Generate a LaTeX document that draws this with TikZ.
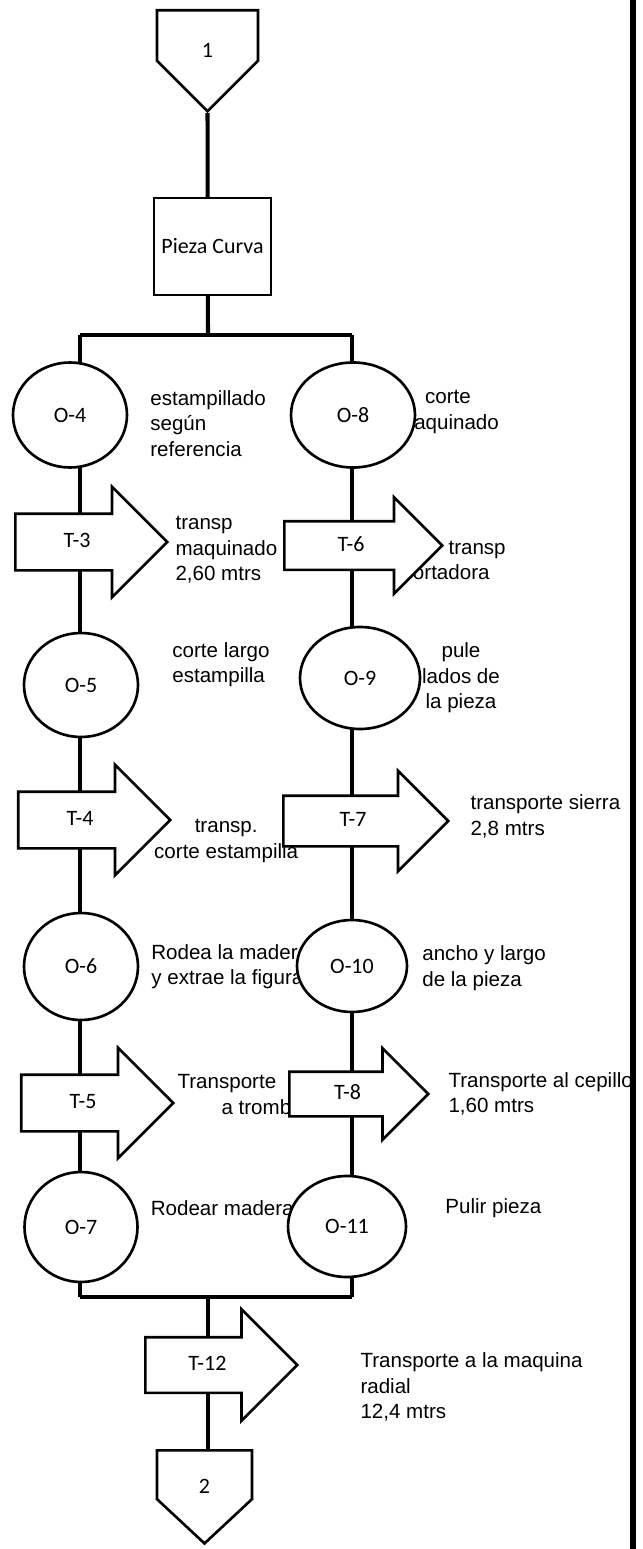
\documentclass[tikz,border=0pt]{standalone}
\usepackage{fontspec}
\usepackage{tikz}
\usetikzlibrary{positioning,shapes,backgrounds}
\newfontfamily\labelfont{Carlito}
\newfontfamily\descfont{Liberation Sans}
\tikzstyle{op}=[draw, ellipse, fill=white, line width=1.5pt, inner sep=0pt, font=\labelfont\fontsize{12.5}{15}\selectfont]
\tikzstyle{proc}=[draw, rectangle, fill=white, line width=1.5pt, minimum width=2.34cm, minimum height=1.94cm, inner sep=0pt, font=\labelfont\fontsize{12.5}{15}\selectfont]
\tikzstyle{conn}=[draw, signal, signal to=south, signal pointer angle=90, fill=white, line width=1.5pt, inner sep=0pt, text depth=0pt, font=\labelfont\fontsize{12.5}{15}\selectfont]
\tikzstyle{trans}=[draw, single arrow, single arrow tip angle=90, single arrow head extend=0.54cm, fill=white, line width=1.5pt, minimum height=3.04cm, text height=0.32cm, text depth=0.1cm, inner xsep=1pt, inner ysep=0.33cm, font=\labelfont\fontsize{12.5}{15}\selectfont]
\tikzstyle{desc}=[inner sep=0pt, align=left, anchor=west, font=\descfont\fontsize{11.7}{14.5}\selectfont]
\tikzstyle{link}=[line width=2.3pt]

\begin{document}
\begin{tikzpicture}[node distance=2cm]
\useasboundingbox (0,0) rectangle (12.84,-30.98);

\node[conn, anchor=north, minimum width=2.02cm, minimum height=1.12cm, text height=0.88cm] at (4.15,-0.18) (p1) {1};
\node[proc] at (4.25,-4.93) (bx) {Pieza Curva};

\coordinate (sM) at (4.16,-6.70);
\coordinate (sL) at (1.60,-6.70);
\coordinate (sR) at (7.04,-6.70);

% left branch
\node[op, below of = bx, node distance = 3.37cm, xshift = -2.85cm, minimum width = 2.28cm, minimum height = 2.10cm] (O4) {O-4};
\node[trans, below of = O4, node distance = 2.54cm, xshift = -1.12cm, anchor = tail] (T3) {T-3};
\node[op, below of = O4, node distance = 5.40cm, xshift = 0.22cm, minimum width = 2.28cm, minimum height = 2.08cm] (O5) {O-5};
\node[trans, below of = O5, node distance = 2.70cm, xshift = -1.28cm, anchor = tail] (T4) {T-4};
\node[op, below of = O5, node distance = 5.63cm, minimum width = 2.28cm, minimum height = 2.14cm] (O6) {O-6};
\node[trans, below of = O6, node distance = 2.73cm, xshift = -1.22cm, anchor = tail] (T5) {T-5};
\node[op, below of = O6, node distance = 5.21cm, minimum width = 2.26cm, minimum height = 2.20cm] (O7) {O-7};

% right branch
\node[op, right of = O4, node distance = 5.66cm, minimum width = 2.48cm, minimum height = 2.10cm] (O8) {O-8};
\node[trans, below of = O8, node distance = 2.61cm, xshift = -1.40cm, anchor = tail, minimum height = 3.16cm, inner ysep = 0.25cm, single arrow head extend = 0.48cm] (T6) {T-6};
\node[op, below of = O8, node distance = 5.26cm, xshift = 0.14cm, minimum width = 2.40cm, minimum height = 2.04cm] (O9) {O-9};
\node[trans, below of = O9, node distance = 2.86cm, xshift = -1.56cm, anchor = tail, minimum height = 3.30cm, inner ysep = 0.27cm, single arrow head extend = 0.50cm] (T7) {T-7};
\node[op, below of = O9, node distance = 5.76cm, xshift = -0.16cm, minimum width = 2.20cm, minimum height = 1.84cm] (O10) {O-10};
\node[trans, below of = O10, node distance = 2.56cm, xshift = -1.28cm, anchor = tail, minimum height = 2.78cm, inner ysep = 0.21cm, single arrow head extend = 0.47cm] (T8) {T-8};
\node[op, below of = O10, node distance = 5.21cm, xshift = -0.10cm, minimum width = 2.36cm, minimum height = 2.02cm] (O11) {O-11};

\coordinate (jM) at (4.16,-25.94);
\coordinate (jL) at (1.60,-25.94);
\coordinate (jR) at (7.04,-25.94);

\node[trans, anchor = tail, inner ysep = 0.32cm, single arrow head extend = 0.56cm] at (2.88,-27.30) (T12) {T-12};
\node[conn, anchor=north, signal pointer angle=94, minimum width=1.90cm, minimum height=1.08cm, text height=0.76cm] at (4.09,-28.98) (p2) {2};

\begin{scope}[on background layer]
\draw[link] (p1.south) -- (sM);
\draw[link] (sL) -- (sR);
\draw[link] (sL) -- (sL |- O4) -- (sL |- T3) -- (sL |- O5) -- (sL |- T4) -- (sL |- O6) -- (sL |- T5) -- (sL |- O7) -- (jL);
\draw[link] (sR) -- (sR |- O8) -- (sR |- T6) -- (sR |- O9) -- (sR |- T7) -- (sR |- O10) -- (sR |- T8) -- (sR |- O11) -- (jR);
\draw[link] (jL) -- (jR);
\draw[link] (jM) -- (jM |- p2.north);

\node[right of = O4, node distance = 1.60cm, desc, yshift = -0.17cm] (dO4) {estampillado\\según\\referencia};
\node[right of = O8, node distance = 1.90cm, desc, anchor = center, align = center, yshift = 0.06cm] (dO8) {corte\\maquinado};
\node[desc] at ([xshift = 0.12cm, yshift = -0.16cm]T3.tip) (dT3) {transp\\maquinado\\2,60 mtrs};
\node[desc] at ([xshift = -0.86cm, yshift = -0.34cm]T6.tip) (dT6) {\hspace*{0.94cm}transp\\portadora};
\node[right of = O5, node distance = 1.82cm, desc, yshift = 0.41cm] (dO5) {corte largo\\estampilla};
\node[right of = O9, node distance = 2.02cm, desc, anchor = center, align = center] (dO9) {pule\\lados de\\la pieza};
\node[desc, anchor = center, align = center] at ([xshift = 1.08cm, yshift = -0.42cm]T4.tip) (dT4) {transp.\\corte estampilla};
\node[desc] at ([xshift = 0.40cm, yshift = 0.09cm]T7.tip) (dT7) {transporte sierra\\2,8 mtrs};
\node[right of = O6, node distance = 1.40cm, desc] (dO6) {Rodea la madera\\y extrae la figura};
\node[right of = O10, node distance = 1.40cm, desc, yshift = -0.04cm] (dO10) {ancho y largo\\de la pieza};
\node[desc] at ([xshift = 0.04cm, yshift = 0.17cm]T5.tip) (dT5) {Transporte\\\hspace*{0.88cm}a tromb};
\node[desc] at ([xshift = 0.36cm]T8.tip) (dT8) {Transporte al cepillo\\1,60 mtrs};
\node[right of = O7, node distance = 1.39cm, desc, yshift = 0.38cm] (dO7) {Rodear madera};
\node[right of = O11, node distance = 1.96cm, desc, yshift = 0.37cm] (dO11) {Pulir pieza};
\node[desc] at ([xshift = 1.22cm, yshift = -0.44cm]T12.tip) (dT12) {Transporte a la maquina\\radial\\12,4 mtrs};
\end{scope}

% page edge
\draw[line width=3pt] (12.66,0) -- (12.66,-30.98);
\end{tikzpicture}
\end{document}
